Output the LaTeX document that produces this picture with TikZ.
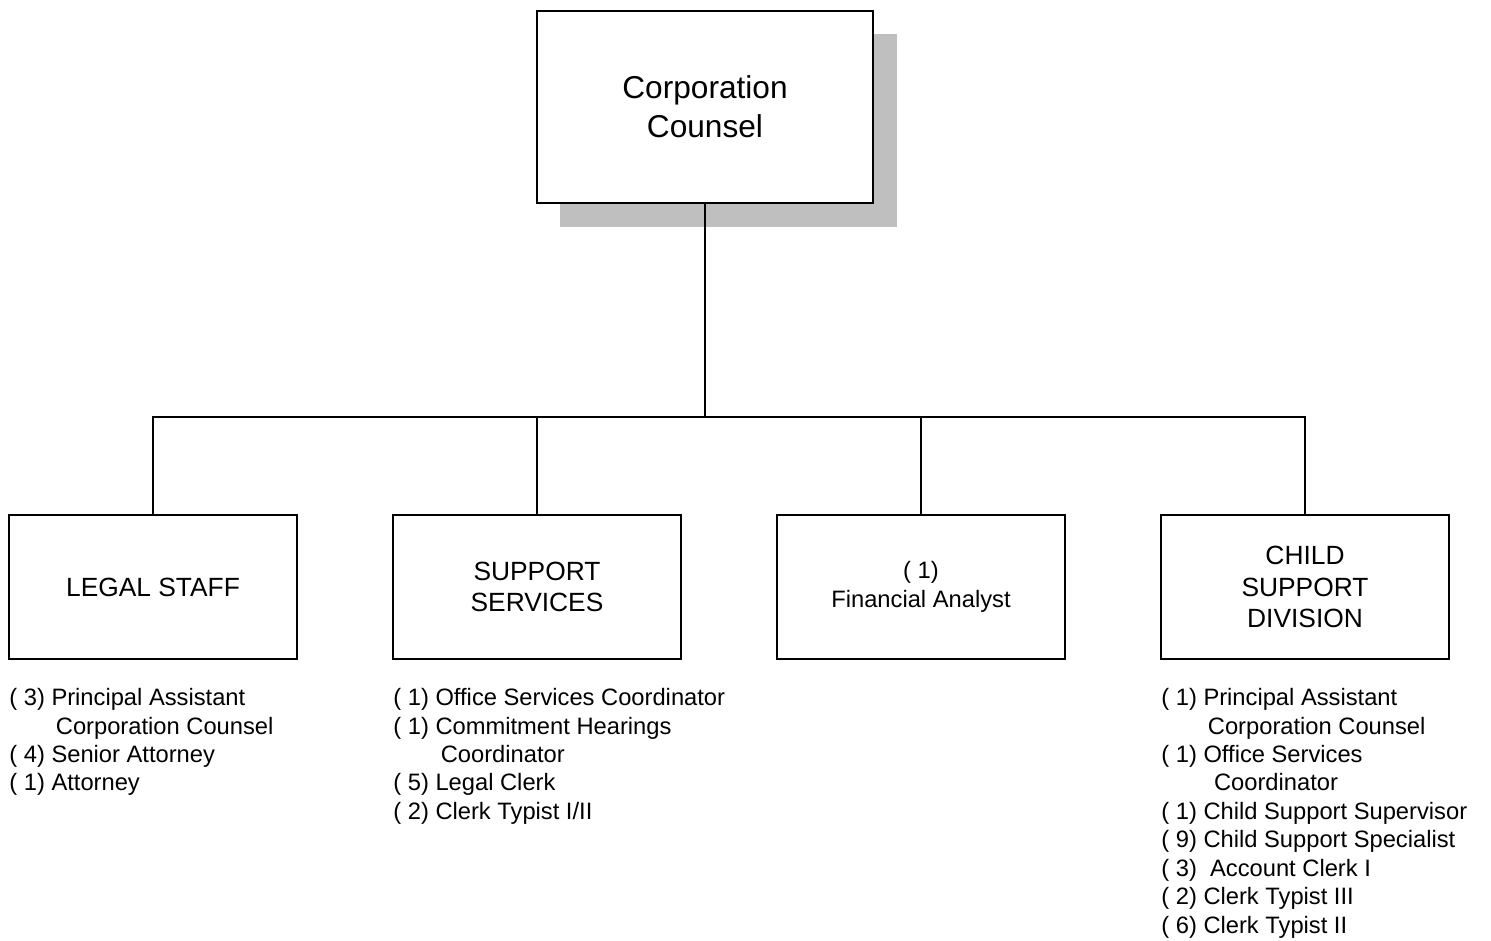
\documentclass[tikz,border=0pt]{standalone}
\usepackage{fontspec}
\setmainfont{Liberation Sans}
\tikzset{
	unit/.style={draw, line width=1.1pt, fill=white, align=center, minimum width=5.76cm, minimum height=2.88cm, font=\fontsize{15}{18}\selectfont},
	staff/.style={anchor=north west, inner sep=0pt, align=left, font=\fontsize{13.5}{16.2}\selectfont},
	link/.style={line width=1.1pt}
}
\begin{document}
\begin{tikzpicture}[x=0.02cm, y=-0.02cm]
	\useasboundingbox (0,0) rectangle (1491,940);
	\fill[gray!50] (560,34) rectangle (897,227);
	\node[unit, minimum width=6.72cm, minimum height=3.84cm, font=\fontsize{18}{22}\selectfont] (cc) at (705,107) {Corporation\\Counsel};

	\node[unit] (legal) at (153,587) {LEGAL STAFF};
	\node[unit] (support) at (537,587) {SUPPORT\\SERVICES};
	\node[unit, font=\fontsize{13.5}{16.4}\selectfont] (fin) at (921,587) {( 1)\\Financial Analyst};
	\node[unit] (child) at (1305,587) {CHILD\\SUPPORT\\DIVISION};

	\coordinate (bus) at (705,417);

	\draw[link] (cc.south) -- (bus);
	\draw[link] (legal.north) |- (bus) -| (child.north);
	\draw[link] (support.north) -- (support.north |- bus);
	\draw[link] (fin.north) -- (fin.north |- bus);

	\node[staff] (legallist) at (9,688) {( 3) Principal Assistant\\\hspace*{26.5pt}Corporation Counsel\\( 4) Senior Attorney\\( 1) Attorney};
	\node[staff] (supportlist) at (393,688) {( 1) Office Services Coordinator\\( 1) Commitment Hearings\\\hspace*{27pt}Coordinator\\( 5) Legal Clerk\\( 2) Clerk Typist I/II};
	\node[staff] (childlist) at (1161,688) {( 1) Principal Assistant\\\hspace*{26.5pt}Corporation Counsel\\( 1) Office Services\\\hspace*{30pt}Coordinator\\( 1) Child Support Supervisor\\( 9) Child Support Specialist\\( 3)\ \ Account Clerk I\\( 2) Clerk Typist III\\( 6) Clerk Typist II};
\end{tikzpicture}
\end{document}
